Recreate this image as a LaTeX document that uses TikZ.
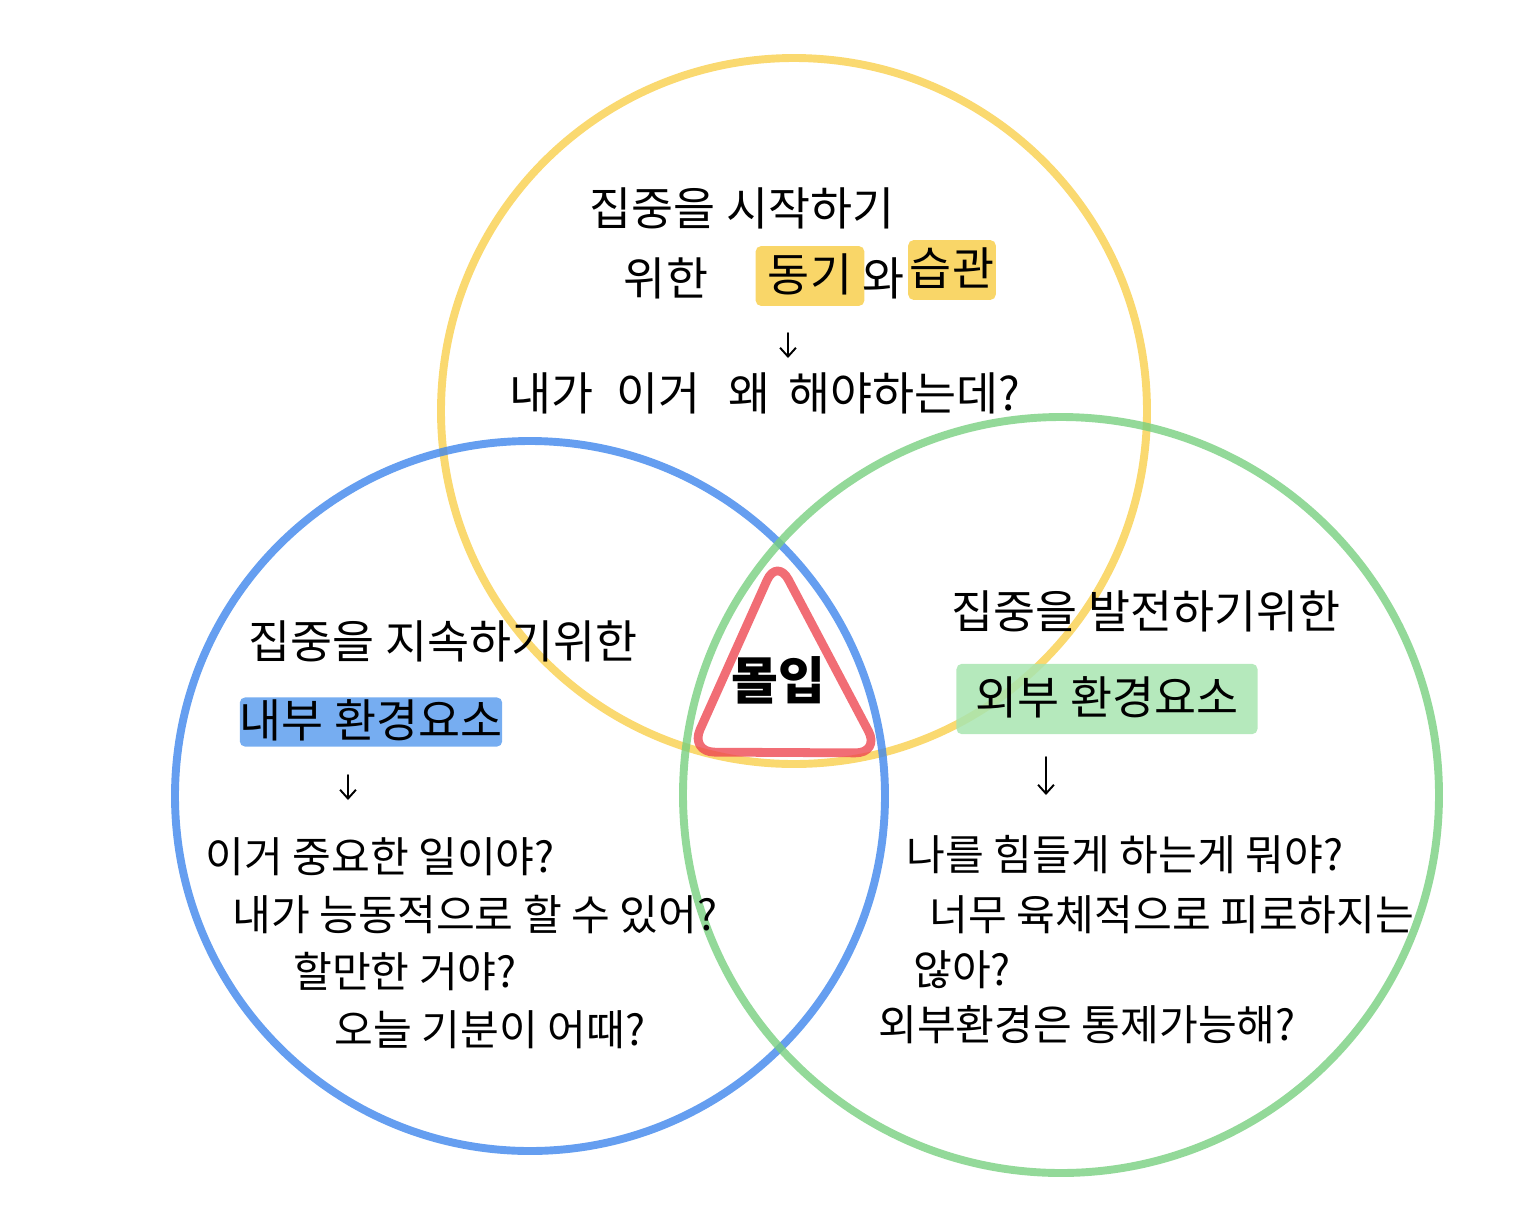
\documentclass[tikz,border=0pt]{standalone}
\usepackage{fontspec}
\setmainfont{Noto Sans CJK KR}
\usetikzlibrary{positioning,arrows.meta}
\definecolor{ringyellow}{HTML}{F9CF4C}
\definecolor{ringblue}{HTML}{3E86EC}
\definecolor{ringgreen}{HTML}{78D07F}
\definecolor{ringred}{HTML}{EE4852}
\definecolor{hlyellow}{HTML}{F8CF4E}
\definecolor{hlblue}{HTML}{5E9FEE}
\definecolor{hlgreen}{HTML}{A8E5B0}
\begin{document}
\begin{tikzpicture}[x=0.02cm,y=-0.02cm,line cap=round,line join=round,
  ring/.style={line width=4.5pt,draw opacity=0.8},
  note/.style={font=\fontsize{26}{30}\selectfont,inner sep=2pt,text height=22pt,text depth=4pt},
  ask/.style={font=\fontsize{24}{28}\selectfont,inner sep=2pt},
  hl/.style={fill=#1,fill opacity=0.85,text opacity=1,rounded corners=3pt,inner xsep=8pt,inner ysep=4pt},
  down/.style={-{Straight Barb[length=5pt,width=9pt]},line width=1.1pt}]
  \useasboundingbox (0,0) rectangle (1536,1218);
  % The three rings and the overlap.
  \draw[ring,ringyellow] (794,411) circle[radius=353];
  \draw[ring,ringblue] (530,796) circle[radius=355];
  \draw[ring,ringgreen] (1061,795) circle[radius=378];
  \draw[ring,ringred,line width=5pt,rounded corners=14pt] (777,558) -- (690,752) -- (880,753) -- cycle;
  \node[font=\fontsize{29}{33}\selectfont\bfseries] (flow) at (778,680) {몰입};
  % Top ring.
  \node[note] (startA) at (742,210) {집중을 시작하기};
  \node[note] (wihan) at (666,280) {위한};
  \node[note,hl=hlyellow,inner xsep=7pt,inner ysep=4pt] (donggi) at (810,276) {동기};
  \node[note,hl=hlyellow,inner xsep=1pt,inner ysep=4pt] (habit) at (952,270) {습관};
  \node[note] (wa) at (884,280) {와};
  \coordinate (topA) at (788,333);
  \coordinate (topB) at (788,358);
  \draw[down] (topA) -- (topB);
  \node[note] (whyq) at (765,395) {내가\hspace{.5em}이거\hspace{.6em}왜\hspace{.4em}해야하는데?};
  % Left ring.
  \node[note] (keepA) at (443,643) {집중을 지속하기위한};
  \node[note,hl=hlblue,inner xsep=0pt,inner ysep=1pt] (inner) at (371,722) {내부 환경요소};
  \coordinate (leftA) at (348,775);
  \coordinate (leftB) at (348,800);
  \draw[down] (leftA) -- (leftB);
  \node[ask] (askA) at (380,857) {이거 중요한 일이야?};
  \node[ask] (askB) at (475,915) {내가 능동적으로 할 수 있어?};
  \node[ask] (askC) at (405,972) {할만한 거야?};
  \node[ask] (askD) at (490,1030) {오늘 기분이 어때?};
  % Right ring.
  \node[note] (growA) at (1146,613) {집중을 발전하기위한};
  \node[note,hl=hlgreen,inner xsep=11pt,inner ysep=7pt] (outer) at (1107,699) {외부 환경요소};
  \coordinate (rightA) at (1046,757);
  \coordinate (rightB) at (1046,795);
  \draw[down] (rightA) -- (rightB);
  \node[ask] (askE) at (1125,855) {나를 힘들게 하는게 뭐야?};
  \node[ask] (askF) at (1172,915) {너무 육체적으로 피로하지는};
  \node[ask] (askG) at (962,970) {않아?};
  \node[ask] (askH) at (1087,1025) {외부환경은 통제가능해?};
\end{tikzpicture}
\end{document}
